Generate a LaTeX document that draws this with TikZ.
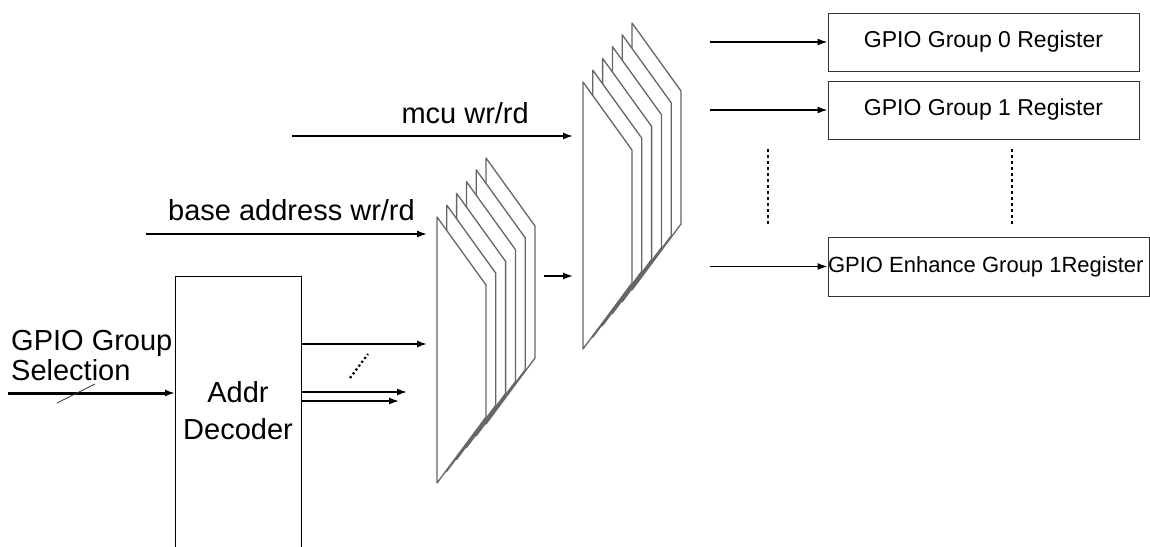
\documentclass[tikz,border=0pt]{standalone}
\usepackage{fontspec}
\setmainfont{Liberation Sans}
\usetikzlibrary{arrows.meta, positioning}

\begin{document}
\begin{tikzpicture}[
  x=1pt, y=-1pt,
  reg/.style={draw=black!80, line width=0.9pt, minimum width=311pt, minimum height=58pt, inner sep=0pt, font=\fontsize{23}{27}\selectfont},
  lbl/.style={font=\fontsize{29}{30}\selectfont, inner sep=0pt},
  sheet/.style={draw=black!60, line width=1.3pt, fill=white, line join=round},
  sig/.style={line width=1.5pt, -{Latex[length=10pt, width=7pt]}},
  feed/.style={sig, shorten >=10pt},
  dots/.style={line width=2.6pt, dash pattern=on 2.6pt off 3.4pt}
]
\useasboundingbox (0,0) rectangle (1150,546);

% address decoder
\node[draw, line width=1pt, anchor=north west, minimum width=126pt, minimum height=290pt, inner sep=0pt] (dec) at (175,276) {};
\node[lbl, align=center, font=\fontsize{29}{37}\selectfont, anchor=north] (decname) at (238,381) {Addr\\Decoder};
\node[lbl, align=left, anchor=north west] (selname) at (11,330) {GPIO Group\\Selection};

\coordinate (sel) at (8,393);
\draw[sig, line width=3pt] (sel) -- (sel -| dec.west);
\draw[line width=0.8pt, black!80] (57,403) -- (95,384);

% register page stacks
\foreach \k in {5,4,...,0} {
  \draw[sheet] (437+9.8*\k,217-11.8*\k) -- ++(49,68) -- ++(0,132) -- ++(-49,66) -- cycle;
  \draw[sheet] (583+9.8*\k,82-11.8*\k) -- ++(49,68) -- ++(0,133) -- ++(-49,66) -- cycle;
}
\coordinate (pa) at (437,217);
\coordinate (pb) at (583,82);

\coordinate (base) at (146,234);
\draw[feed] (base) -- node[lbl, above=12pt, pos=0.5] (basename) {base address wr/rd} (base -| pa);
\coordinate (mcu) at (292,136);
\draw[feed] (mcu) -- node[lbl, above=11pt, pos=0.595] (mcuname) {mcu wr/rd} (mcu -| pb);

\coordinate (q1) at (301,344);
\coordinate (q2) at (301,392);
\coordinate (r2) at (407,392);
\coordinate (q3) at (301,401);
\coordinate (r3) at (399,401);
\draw[feed] (q1) -- (q1 -| pa);
\draw[sig] (q2) -- (r2);
\draw[sig] (q3) -- (r3);
\draw[dots, line width=2.2pt, dash pattern=on 2.2pt off 2.6pt] (350,378) -- (368,354);

\coordinate (mid) at (544,276);
\draw[feed] (mid) -- (mid -| pb);

% gpio registers
\node[reg] (grp0) at (983.5,42) {GPIO Group 0 Register};
\node[reg] (grp1) at (983.5,110) {GPIO Group 1 Register};
\node[reg, minimum width=321pt, minimum height=59pt, font=\fontsize{22}{26}\selectfont] (enh) at (988.5,266.5) {\makebox[321pt][l]{GPIO Enhance Group 1Register}};

\coordinate (w0) at (710,42);
\coordinate (w1) at (710,110);
\coordinate (w2) at (710,266.5);
\draw[sig] (w0) -- (grp0);
\draw[sig] (w1) -- (grp1);
\draw[sig] (w2) -- (enh);

\draw[dots] (768,149) -- (768,226);
\draw[dots] (1012,149) -- (1012,226);
\end{tikzpicture}
\end{document}
